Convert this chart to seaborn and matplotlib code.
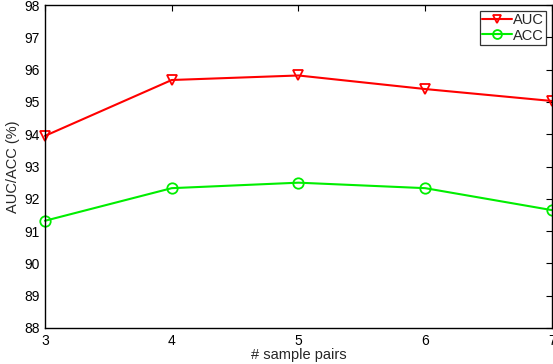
import matplotlib
matplotlib.use('Agg')
import matplotlib.pyplot as plt
import seaborn as sns
import pandas as pd

# values
sample_pairs = [3, 4, 5, 6, 7]
auc = [93.95, 95.68, 95.82, 95.40, 95.03]
acc = [91.32, 92.33, 92.50, 92.33, 91.65]

sns.set_style("white")
plt.rcParams['font.family'] = ['Liberation Sans', 'DejaVu Sans']
plt.rcParams['font.size'] = 10

df = pd.DataFrame({'pairs': sample_pairs * 2,
                   'value': auc + acc,
                   'metric': ['AUC'] * 5 + ['ACC'] * 5})

fig = plt.figure(figsize=(5.53, 3.64), dpi=100)
ax = fig.add_axes([0.0814, 0.099, 0.9166, 0.887])

sns.lineplot(data=df, x='pairs', y='value', hue='metric', style='metric',
             palette={'AUC': '#ff0000', 'ACC': '#00ee00'},
             markers={'AUC': 'v', 'ACC': 'o'}, dashes=False,
             markersize=7.5, markerfacecolor='none', markeredgewidth=1.3,
             linewidth=1.5, ax=ax, clip_on=False)
for line in ax.lines:
    line.set_markerfacecolor('none')
    line.set_markeredgecolor(line.get_color())

ax.set_xlim(3, 7)
ax.set_ylim(88, 98)
ax.set_xticks(sample_pairs)
ax.set_yticks(range(88, 99))
ax.tick_params(direction='in', top=True, right=True, length=4, width=0.8,
               labelsize=10, pad=4, colors='black')
for s in ax.spines.values():
    s.set_color('black')
    s.set_linewidth(1.0)
ax.set_xlabel('# sample pairs', fontsize=10.5, labelpad=0)
ax.set_ylabel('AUC/ACC (%)', fontsize=10.5, labelpad=3)

leg = ax.legend(loc='upper right', fontsize=10.5, frameon=True, fancybox=False,
                borderpad=0.15, handlelength=2.0, handletextpad=0.1,
                labelspacing=0.1, borderaxespad=0.4, markerscale=0.85)
leg.get_frame().set_edgecolor('black')
leg.get_frame().set_linewidth(0.9)
for h in leg.legend_handles:
    h.set_markerfacecolor('none')

fig.savefig('out.png', dpi=100)
